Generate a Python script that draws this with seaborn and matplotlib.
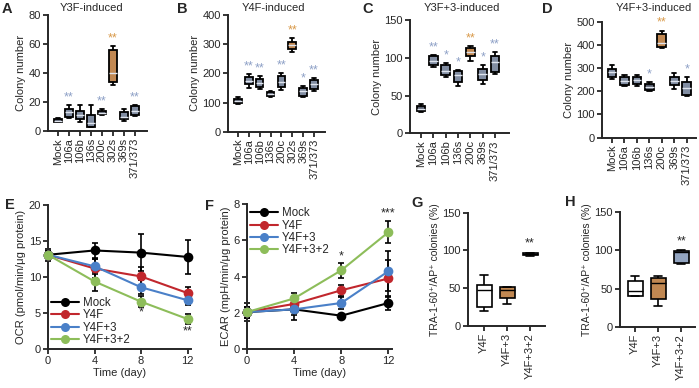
import numpy as np
import pandas as pd
import matplotlib
matplotlib.use('Agg')
import matplotlib.pyplot as plt
from matplotlib.lines import Line2D
import seaborn as sns

# colony numbers, each box given as [min, q1, median, q3, max]
cats8 = ['Mock', '106a', '106b', '136s', '200c', '302s', '369s', '371/373']
cats7 = ['Mock', '106a', '106b', '136s', '200c', '369s', '371/373']

a_vals = [[6, 6.5, 7, 8.5, 9], [8.8, 10, 13, 15.5, 18], [6.5, 8.5, 11, 14, 18],
          [2.5, 3, 5.5, 11, 18], [11, 11.5, 12.5, 14, 15], [32, 34, 40, 56, 58.5],
          [7, 8, 10, 13, 15.5], [10.5, 11, 14, 17, 18]]
a_stars = ['', '**', '', '', '**', '**', '', '**']

b_vals = [[95, 98, 105, 113, 118], [150, 162, 175, 188, 198], [145, 152, 168, 182, 190],
          [120, 123, 130, 135, 138], [142, 152, 172, 190, 200], [272, 282, 297, 308, 320],
          [118, 122, 138, 150, 155], [140, 148, 162, 176, 185]]
b_stars = ['', '**', '**', '', '**', '**', '*', '**']

c_vals = [[28, 29, 32, 36, 39], [88, 90, 96, 102, 104], [74, 77, 83, 90, 93],
          [63, 68, 77, 82, 84], [96, 102, 108, 113, 116], [65, 70, 78, 85, 90],
          [78, 81, 94, 103, 108]]
c_stars = ['', '**', '*', '*', '**', '*', '**']

d_vals = [[252, 262, 282, 298, 313], [222, 228, 245, 262, 270], [222, 232, 248, 262, 270],
          [200, 207, 220, 233, 240], [385, 392, 408, 445, 462], [212, 228, 245, 262, 278],
          [178, 185, 215, 240, 262]]
d_stars = ['', '', '', '*', '**', '', '*']

# OCR / ECAR time courses
days = [0, 4, 8, 12]
groups = ['Mock', 'Y4F', 'Y4F+3', 'Y4F+3+2']
ocr_mean = [[13.1, 13.7, 13.4, 12.8], [13.1, 11.2, 10.1, 7.8],
            [13.1, 11.5, 8.6, 6.8], [13.1, 9.4, 6.6, 4.2]]
ocr_err = [[0.8, 1.1, 2.6, 2.3], [0.5, 1.3, 1.3, 0.8],
           [0.5, 1.0, 1.0, 0.6], [0.5, 1.3, 0.8, 0.7]]
ecar_mean = [[2.05, 2.2, 1.85, 2.55], [2.05, 2.5, 3.25, 3.9],
             [2.05, 2.2, 2.55, 4.3], [2.05, 2.8, 4.35, 6.45]]
ecar_err = [[0.5, 0.6, 0.1, 0.4], [0.3, 0.3, 0.3, 1.0],
            [0.3, 0.3, 0.35, 1.1], [0.3, 0.3, 0.4, 0.6]]

# TRA-1-60+/AP+ colonies (%)
tra_cats = ['Y4F', 'Y4F+3', 'Y4F+3+2']
g_vals = [[20, 25, 48, 54, 67], [29, 37, 48, 51, 52], [93, 94, 95, 96, 97]]
h_vals = [[40, 41, 47, 60, 67], [27, 36, 58, 64, 66], [82, 83, 98, 99.5, 100]]

sns.set_style('ticks')
plt.rcParams['font.family'] = ['Liberation Sans', 'DejaVu Sans']
plt.rcParams['axes.linewidth'] = 1.4

W, H = 699, 388
fig = plt.figure(figsize=(W / 100, H / 100), dpi=100)


def px_axes(l, r, t, b):
    return fig.add_axes([l / W, 1 - b / H, (r - l) / W, (b - t) / H])


def style(ax):
    sns.despine(ax=ax)
    ax.tick_params(direction='out', length=3.5, width=1.3, labelsize=8, pad=1.5)


blue = '#7b8ba8'
dark = '#4f596e'
orange = '#d3883f'
star_blue = '#8da0c6'
star_orange = '#d99a4a'


def colony_panel(ax, cats, vals, colors, stars, hi, ymax, step, xlim):
    df = pd.DataFrame({'cat': np.repeat(cats, 5), 'n': np.concatenate(vals)})
    sns.boxplot(data=df, x='cat', y='n', hue='cat', order=cats, hue_order=cats,
                palette=dict(zip(cats, colors)), legend=False, width=0.7,
                whis=np.inf, linewidth=1.3, linecolor='black',
                medianprops=dict(color='#dfe4ee', linewidth=1), ax=ax)
    for i, s in enumerate(stars):
        if s:
            ax.text(i, max(vals[i]) + ymax * 0.015, s, ha='center', va='bottom',
                    fontsize=9, color=star_orange if i == hi else star_blue)
    ax.set_ylim(0, ymax)
    ax.set_yticks(range(0, ymax + 1, step))
    ax.set_xlim(*xlim)
    ax.set_xticks(range(len(cats)))
    ax.set_xticklabels(cats, rotation=90)
    ax.set_xlabel('')
    ax.set_ylabel('Colony number', fontsize=8, labelpad=2)
    style(ax)


axA = px_axes(48, 147, 15, 131)
colony_panel(axA, cats8, a_vals, [dark, blue, blue, blue, dark, orange, blue, blue],
             a_stars, 5, 80, 20, (-0.9, 8.1))
axB = px_axes(228, 325, 15, 131.7)
colony_panel(axB, cats8, b_vals, [dark, blue, blue, dark, blue, orange, blue, blue],
             b_stars, 5, 400, 100, (-0.9, 8.0))
axC = px_axes(410, 508.6, 20, 133.3)
colony_panel(axC, cats7, c_vals, [dark, blue, blue, blue, orange, blue, blue],
             c_stars, 4, 150, 50, (-0.9, 7.1))
axD = px_axes(602, 695.5, 21.7, 137.7)
colony_panel(axD, cats7, d_vals, [blue, blue, blue, dark, orange, blue, blue],
             d_stars, 4, 500, 100, (-0.8, 6.7))

line_colors = ['black', '#c1272d', '#4a80c8', '#8dbd5a']


def time_panel(ax, means, errs, ymax, step, ylabel, legend_loc):
    rows = []
    for g, m in zip(groups, means):
        for d, v in zip(days, m):
            rows.append({'day': d, 'v': v, 'g': g})
    df = pd.DataFrame(rows)
    for m, e in zip(means, errs):
        ax.errorbar(days, m, yerr=e, fmt='none', ecolor='black', elinewidth=1.2,
                    capsize=2.5, capthick=1.2, zorder=1, clip_on=False)
    sns.lineplot(data=df, x='day', y='v', hue='g', hue_order=groups,
                 palette=dict(zip(groups, line_colors)), marker='o', markersize=7,
                 markeredgewidth=0, linewidth=1.5, legend=False, errorbar=None,
                 ax=ax, clip_on=False, zorder=3)
    ax.set_xlim(0, 12.3)
    ax.set_xticks(days)
    ax.set_ylim(0, ymax)
    ax.set_yticks(np.arange(0, ymax + 0.1, step))
    ax.set_xlabel('Time (day)', fontsize=8, labelpad=1)
    ax.set_ylabel(ylabel, fontsize=8, labelpad=2)
    handles = [Line2D([], [], color=c, marker='o', markersize=6.5, mew=0, lw=1.5)
               for c in line_colors]
    ax.legend(handles, groups, loc=legend_loc, frameon=False, fontsize=8.3,
              handlelength=2.4, handletextpad=0.3, labelspacing=0.02,
              borderaxespad=0.1, borderpad=0.2)
    style(ax)


axE = px_axes(48, 191, 205, 349.3)
time_panel(axE, ocr_mean, ocr_err, 20, 5, 'OCR (pmol/min/μg protein)', 'lower left')
axE.text(8, 4.3, '*', ha='center', va='bottom', fontsize=9)
axE.text(12, 1.6, '**', ha='center', va='bottom', fontsize=9)

axF = px_axes(247, 392, 204, 349.3)
time_panel(axF, ecar_mean, ecar_err, 8, 2, 'ECAR (mpH/min/μg protein)', 'upper left')
axF.text(8, 4.8, '*', ha='center', va='bottom', fontsize=9)
axF.text(12, 7.15, '***', ha='center', va='bottom', fontsize=9)


def tra_panel(ax, vals, colors, xlim):
    df = pd.DataFrame({'cat': np.repeat(tra_cats, 5), 'p': np.concatenate(vals)})
    sns.boxplot(data=df, x='cat', y='p', hue='cat', order=tra_cats, hue_order=tra_cats,
                palette=dict(zip(tra_cats, colors)), legend=False, width=0.65,
                whis=np.inf, linewidth=1.2, linecolor='black',
                medianprops=dict(color='black', linewidth=1), ax=ax)
    ax.text(2, max(vals[2]) + 4, '**', ha='center', va='bottom', fontsize=9)
    ax.set_ylim(0, 150)
    ax.set_yticks([0, 50, 100, 150])
    ax.set_xlim(*xlim)
    ax.set_xticks(range(3))
    ax.set_xticklabels(tra_cats, rotation=90)
    ax.set_xlabel('')
    ax.set_ylabel('TRA-1-60⁺/AP⁺ colonies (%)', fontsize=7.5, labelpad=2)
    style(ax)


axG = px_axes(468, 545, 212.7, 326)
tra_panel(axG, g_vals, ['white', orange, '#7d8fb0'], (-0.7, 2.65))
axH = px_axes(620, 695, 212, 327)
tra_panel(axH, h_vals, ['white', orange, '#8aa2c8'], (-0.65, 2.6))

# panel letters and titles
for letter, x, y in [('A', 7, 9), ('B', 182, 9), ('C', 368, 9), ('D', 547, 9),
                     ('E', 10, 205), ('F', 210, 206), ('G', 417, 203), ('H', 570, 202)]:
    fig.text(x / W, 1 - y / H, letter, fontsize=10.5, fontweight='bold',
             ha='center', va='center')
for title, x in [('Y3F-induced', 91), ('Y4F-induced', 273),
                 ('Y3F+3-induced', 462), ('Y4F+3-induced', 654)]:
    fig.text(x / W, 1 - 8 / H, title, fontsize=8, ha='center', va='center')

fig.savefig('out.png', dpi=100)
